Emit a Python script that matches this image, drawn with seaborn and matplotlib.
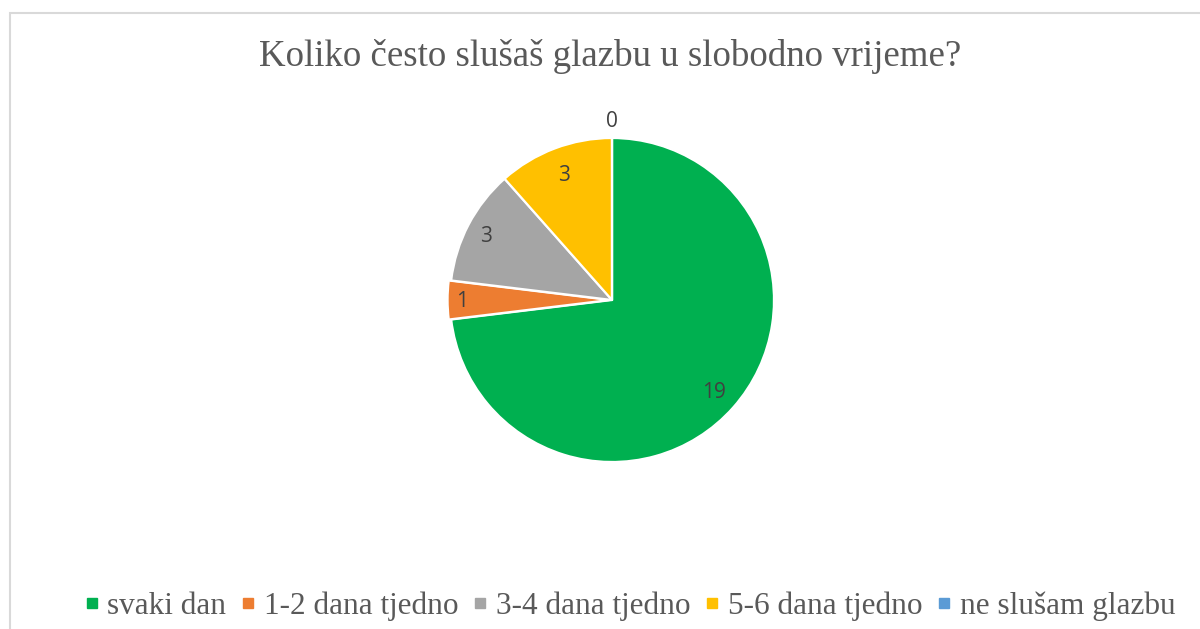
import numpy as np
import matplotlib
matplotlib.use("Agg")
import matplotlib.pyplot as plt
from matplotlib.lines import Line2D
from matplotlib.patches import Rectangle
from matplotlib.transforms import offset_copy
import seaborn as sns

# Data
categories = ["svaki dan", "1-2 dana tjedno", "3-4 dana tjedno", "5-6 dana tjedno", "ne slušam glazbu"]
counts = [19, 1, 3, 3, 0]
colors = ["#00B050", "#ED7D31", "#A5A5A5", "#FFC000", "#5B9BD5"]

sns.set_theme(style="white")
plt.rcParams["font.family"] = ["Liberation Serif", "DejaVu Serif"]

fig = plt.figure(figsize=(12, 6.29), dpi=100)
W, H = 1200, 629

# chart border (cut off at right / bottom like the screenshot)
fig.patches.append(Rectangle((10 / W, -0.05), 1.2, 1 - 13 / H + 0.05, transform=fig.transFigure,
                             fill=False, edgecolor="#D9D9D9", linewidth=1.5))

cx, cy, r = 612, 300, 162
ax = fig.add_axes([(cx - r) / W, (H - cy - r) / H, 2 * r / W, 2 * r / H])

explode = [0, 0.015, 0, 0, 0]
wedges, _ = ax.pie(counts, colors=colors, startangle=90, counterclock=False,
                   explode=explode, radius=1,
                   wedgeprops=dict(edgecolor="white", linewidth=1.6))
for w in wedges:
    w.set_clip_on(False)
ax.set_xlim(-1, 1)
ax.set_ylim(-1, 1)
ax.set_aspect("equal")
ax.axis("off")

# data labels (baseline shifted so the digits are centred on the point)
trans = offset_copy(ax.transData, fig=fig, y=-5.4, units="points")
dists = [0.84, 0.925, 0.875, 0.835, 1.117]
for w, val, d in zip(wedges, counts, dists):
    ang = np.deg2rad((w.theta1 + w.theta2) / 2)
    ax.text(d * np.cos(ang), d * np.sin(ang), str(val), ha="center", va="baseline",
            transform=trans, fontsize=15, color="#404040", family=["Open Sans", "DejaVu Sans"])

fig.text(610 / W, 1 - 66 / H, "Koliko često slušaš glazbu u slobodno vrijeme?",
         ha="center", va="baseline", fontsize=26.6, color="#595959")

handles = [Line2D([], [], marker="s", linestyle="none", markersize=7.5,
                  markerfacecolor=c, markeredgecolor=c) for c in colors]
fig.legend(handles, categories, loc="center", bbox_to_anchor=(629 / W, 1 - 606 / H),
           ncol=5, frameon=False, fontsize=22.5, labelcolor="#595959",
           handlelength=0.6, handletextpad=0.2, columnspacing=0.4)

fig.savefig("out.png", dpi=100)
